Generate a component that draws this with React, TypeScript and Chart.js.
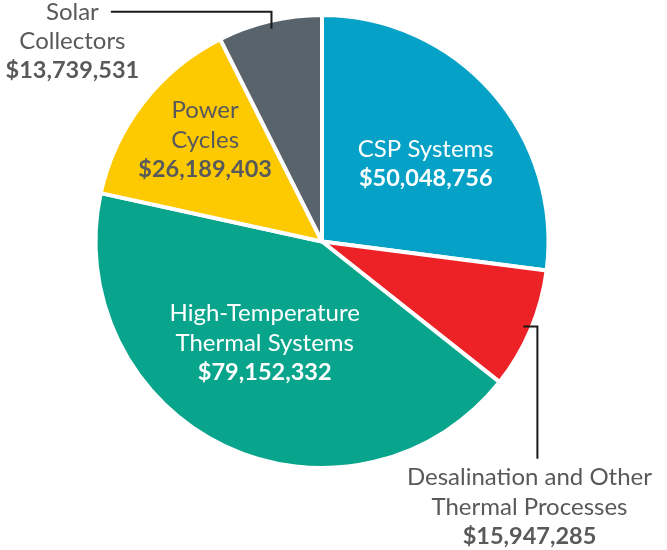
import React, { useEffect, useRef } from "react";
import { Chart, registerables } from "chart.js";

Chart.register(...registerables);

const categories: string[][] = [
  ["CSP Systems"],
  ["Desalination and Other", "Thermal Processes"],
  ["High-Temperature", "Thermal Systems"],
  ["Power", "Cycles"],
  ["Solar", "Collectors"],
];
const values: number[] = [50048756, 15947285, 79152332, 26189403, 13739531];
const valueLabels: string[] = ["$50,048,756", "$15,947,285", "$79,152,332", "$26,189,403", "$13,739,531"];
const colors: string[] = ["#05a1c6", "#ec2227", "#08a58c", "#fdc900", "#58636c"];

const TEXT_GRAY = "#58595b";
// label layout: offset from pie centre in units of radius; outside labels get a leader
const labelLayout = [
  { dx: 0.458, dy: -0.342, color: "#ffffff", leader: null },
  { dx: 0.916, dy: 1.173, color: TEXT_GRAY, leader: "down" },
  { dx: -0.253, dy: 0.449, color: "#ffffff", leader: null },
  { dx: -0.516, dy: -0.449, color: TEXT_GRAY, leader: null },
  { dx: -1.102, dy: -0.884, color: TEXT_GRAY, leader: "left" },
];

const FONT = "Lato, 'Open Sans', sans-serif";
const NAME_SIZE = 24;
const VALUE_SIZE = 23.5;
const LINE_H = 29.5;

const labelPlugin = {
  id: "pieLabels",
  afterDatasetsDraw(chart: any) {
    const ctx = chart.ctx;
    const meta = chart.getDatasetMeta(0);
    meta.data.forEach((arc: any, i: number) => {
      const { x, y, outerRadius, startAngle, endAngle } = arc.getProps(
        ["x", "y", "outerRadius", "startAngle", "endAngle"],
        true
      );
      const R = outerRadius;
      const lay = labelLayout[i];
      const cx = x + lay.dx * R;
      const cy = y + lay.dy * R;
      const lines = [...categories[i], valueLabels[i]];
      const n = lines.length;
      const top = cy - ((n - 1) * LINE_H) / 2;
      ctx.save();
      ctx.textAlign = "center";
      ctx.textBaseline = "middle";
      ctx.fillStyle = lay.color;
      lines.forEach((t, k) => {
        const bold = k === n - 1;
        ctx.font = bold ? `bold ${VALUE_SIZE}px ${FONT}` : `${NAME_SIZE}px ${FONT}`;
        ctx.fillText(t, cx, top + k * LINE_H);
      });
      if (lay.leader) {
        const mid = (startAngle + endAngle) / 2;
        const ax = x + Math.cos(mid) * R * 0.965;
        const ay = y + Math.sin(mid) * R * 0.965;
        ctx.strokeStyle = "#1a1a1a";
        ctx.lineWidth = 2;
        ctx.beginPath();
        if (lay.leader === "left") {
          ctx.font = `${NAME_SIZE}px ${FONT}`;
          const w0 = ctx.measureText(lines[0]).width;
          const ly = top;
          ctx.moveTo(ax, ay);
          ctx.lineTo(ax, ly);
          ctx.lineTo(cx + w0 / 2 + 12, ly);
        } else {
          const lx = ax + 14;
          ctx.moveTo(ax, ay);
          ctx.lineTo(lx, ay);
          ctx.lineTo(lx, top - 19);
        }
        ctx.stroke();
      }
      ctx.restore();
    });
  },
};

export default function App() {
  const ref = useRef<HTMLCanvasElement | null>(null);
  useEffect(() => {
    if (!ref.current) return;
    const chart = new Chart(ref.current, {
      type: "pie",
      data: {
        labels: categories.map((c) => c.join(" ")),
        datasets: [
          {
            data: values,
            backgroundColor: colors,
            borderColor: "#ffffff",
            borderWidth: 4,
          },
        ],
      },
      options: {
        responsive: false,
        animation: false,
        layout: { padding: { left: 93, right: 116, top: 13, bottom: 80 } },
        plugins: {
          legend: { display: false },
          tooltip: { enabled: false },
        },
      },
      plugins: [labelPlugin],
    });
    return () => chart.destroy();
  }, []);
  return (
    <div style={{ position: "absolute", left: 0, top: 0, width: 667, height: 550, background: "#fff" }}>
      <canvas ref={ref} width={667} height={550} />
    </div>
  );
}
